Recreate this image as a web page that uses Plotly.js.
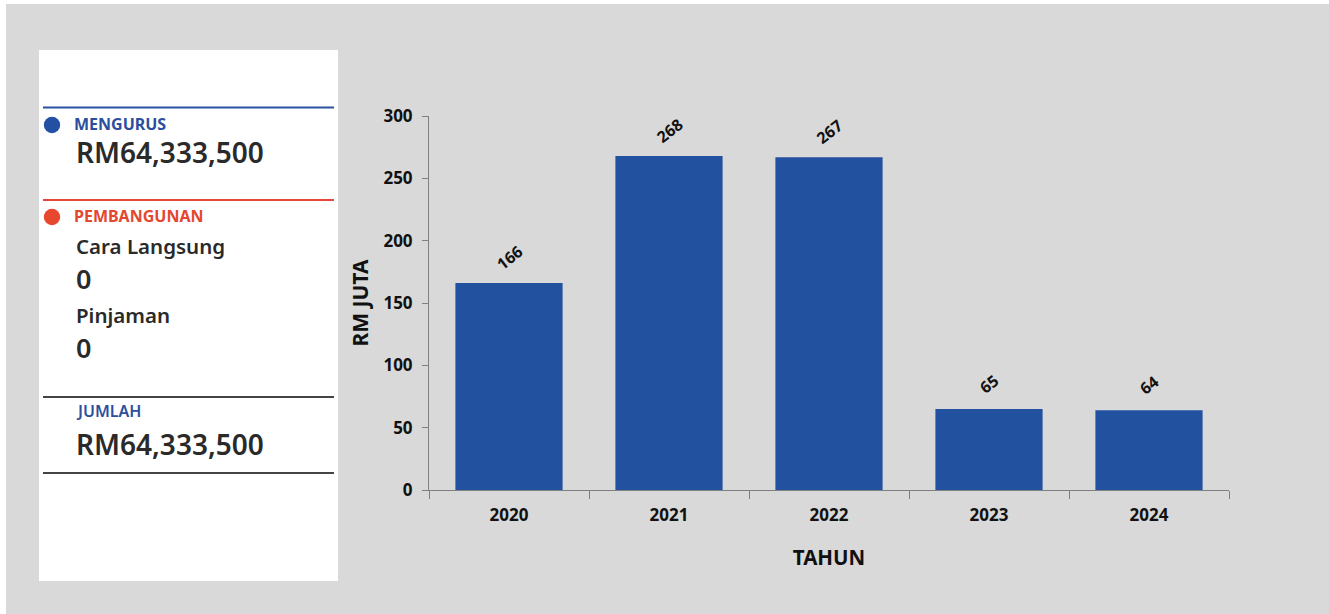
<!DOCTYPE html>
<html>
<head>
<meta charset="utf-8">
<script src="https://cdn.plot.ly/plotly-3.0.1.min.js"></script>
<style>
  html, body { margin: 0; padding: 0; background: #ffffff; }
  #chart { width: 1329px; height: 614px; }
</style>
</head>
<body>
<div id="chart"></div>
<script>
// ---- Data ----
const years = ["2020", "2021", "2022", "2023", "2024"];
const valuesRmJuta = [166, 268, 267, 65, 64];
const yTicks = [0, 50, 100, 150, 200, 250, 300];

const mengurusLabel = "MENGURUS";
const mengurusValue = "RM64,333,500";
const pembangunanLabel = "PEMBANGUNAN";
const caraLangsungLabel = "Cara Langsung";
const caraLangsungValue = "0";
const pinjamanLabel = "Pinjaman";
const pinjamanValue = "0";
const jumlahLabel = "JUMLAH";
const jumlahValue = "RM64,333,500";

// ---- Layout helpers (pixel -> paper) ----
const W = 1329, H = 614;
const M = { l: 429, r: 100, t: 116, b: 124 };
const plotW = W - M.l - M.r, plotH = H - M.t - M.b;
const px = x => (x - M.l) / plotW;
const py = y => (H - M.b - y) / plotH;

const FONT = "Noto Sans, Open Sans, sans-serif";
const BLUE = "#2251a0";
const TXT_BLUE = "#2b4f9e";
const RED = "#e4472f";
const DARK = "#2a2a2a";

function rect(x0, y0, x1, y1, color) {
  return { type: "rect", xref: "paper", yref: "paper", layer: "below",
    x0: px(x0), x1: px(x1), y0: py(y1), y1: py(y0),
    fillcolor: color, line: { width: 0 } };
}
function hline(y, x0, x1, color, w) {
  return { type: "line", xref: "paper", yref: "paper", layer: "above",
    x0: px(x0), x1: px(x1), y0: py(y), y1: py(y), line: { color: color, width: w } };
}
function dot(cx, cy, r, color) {
  return { type: "circle", xref: "paper", yref: "paper", layer: "above",
    x0: px(cx - r), x1: px(cx + r), y0: py(cy + r), y1: py(cy - r),
    fillcolor: color, line: { width: 0 } };
}
function txt(text, x, y, size, color, weight) {
  return { text: text, xref: "paper", yref: "paper", x: px(x - 3), y: py(y),
    xanchor: "left", yanchor: "middle", showarrow: false,
    font: { family: FONT, size: size, color: color, weight: weight } };
}

const shapes = [
  rect(6, 4, 1329, 614, "#d9d9d9"),
  rect(39, 50, 338, 581, "#ffffff"),
  hline(107.5, 43, 334, "#2a52a0", 2.2),
  hline(200, 43, 334, "#e5473a", 2.2),
  hline(397, 43, 334, "#444444", 2.2),
  hline(473, 43, 334, "#444444", 2.2),
  dot(52, 125, 8.2, "#2350a3"),
  dot(52, 217, 8.2, "#e8472f")
];

const panelAnnotations = [
  txt(mengurusLabel, 75, 124, 16, TXT_BLUE, 700),
  txt(mengurusValue, 77, 152, 28, DARK, 600),
  txt(pembangunanLabel, 75, 216, 16, RED, 700),
  txt(caraLangsungLabel, 77, 246, 20.5, DARK, 600),
  txt(caraLangsungValue, 77, 278, 27, DARK, 600),
  txt(pinjamanLabel, 77, 315, 20.5, DARK, 600),
  txt(pinjamanValue, 77, 347, 27, DARK, 600),
  txt(jumlahLabel, 77, 411, 16, TXT_BLUE, 600),
  txt(jumlahValue, 77, 444, 28, DARK, 600)
];

const valueAnnotations = years.map((yr, i) => ({
  x: i, y: valuesRmJuta[i], xref: "x", yref: "y",
  text: String(valuesRmJuta[i]), showarrow: false,
  yshift: 25, textangle: -38,
  xanchor: "center", yanchor: "middle",
  font: { family: FONT, size: 16, color: "#111111", weight: 700 }
}));

const trace = {
  type: "bar",
  x: years,
  y: valuesRmJuta,
  marker: { color: BLUE, line: { width: 0 } },
  width: 0.67,
  hoverinfo: "x+y"
};

const layout = {
  width: W, height: H,
  margin: M,
  paper_bgcolor: "#ffffff",
  plot_bgcolor: "rgba(0,0,0,0)",
  showlegend: false,
  font: { family: FONT },
  xaxis: {
    type: "category",
    range: [-0.5, 4.5],
    fixedrange: true,
    showline: true, linecolor: "#808080", linewidth: 1,
    ticks: "outside", tickson: "boundaries", ticklen: 8, tickcolor: "#808080",
    ticklabelstandoff: 10,
    showgrid: false, zeroline: false,
    tickfont: { family: FONT, size: 17, color: "#111111", weight: 700 },
    title: { text: "TAHUN", standoff: 25,
      font: { family: FONT, size: 20.5, color: "#111111", weight: 700 } }
  },
  yaxis: {
    range: [0, 300],
    fixedrange: true,
    tickvals: yTicks,
    showline: true, linecolor: "#808080", linewidth: 1,
    ticks: "outside", ticklen: 6, tickcolor: "#808080",
    ticklabelstandoff: 6,
    showgrid: false, zeroline: false,
    tickfont: { family: FONT, size: 17, color: "#111111", weight: 700 },
    title: { text: "RM JUTA", standoff: 9,
      font: { family: FONT, size: 21, color: "#111111", weight: 700 } }
  },
  shapes: shapes,
  annotations: panelAnnotations.concat(valueAnnotations)
};

Plotly.newPlot("chart", [trace], layout, { displayModeBar: false, staticPlot: true });
</script>
</body>
</html>
